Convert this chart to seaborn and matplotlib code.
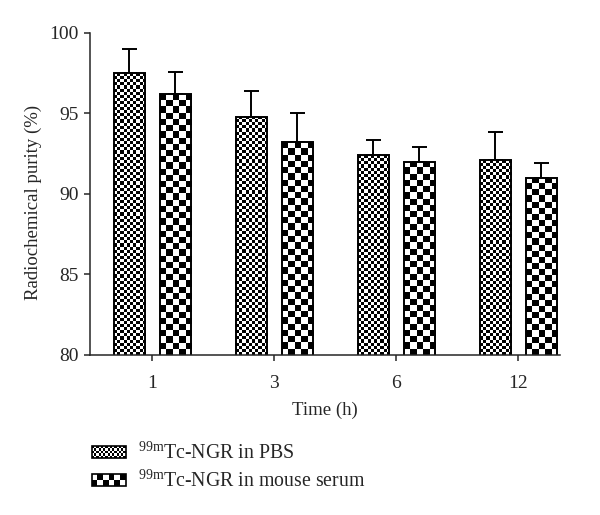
import numpy as np
import pandas as pd
import matplotlib
matplotlib.use("Agg")
import matplotlib.pyplot as plt
import seaborn as sns
from matplotlib.patches import Rectangle
from matplotlib.legend_handler import HandlerBase

# data
times = ["1", "3", "6", "12"]
groups = [r"$\mathregular{^{99m}}$Tc-NGR in PBS",
          r"$\mathregular{^{99m}}$Tc-NGR in mouse serum"]
pbs_mean = [97.5, 94.8, 92.4, 92.1]
pbs_sd = [1.5, 1.6, 0.95, 1.75]
serum_mean = [96.2, 93.2, 92.0, 91.0]
serum_sd = [1.4, 1.8, 0.9, 0.9]

df = pd.DataFrame({
    "Time": times * 2,
    "Group": [groups[0]] * 4 + [groups[1]] * 4,
    "Purity": pbs_mean + serum_mean,
})
sds = [pbs_sd, serum_sd]
means = [pbs_mean, serum_mean]

sns.set_style("ticks")
plt.rcParams["font.family"] = ["Liberation Serif", "DejaVu Serif"]
plt.rcParams["mathtext.fontset"] = "custom"
plt.rcParams["mathtext.rm"] = "Liberation Serif"
plt.rcParams["axes.linewidth"] = 1.1
plt.rcParams["xtick.major.width"] = 1.1
plt.rcParams["ytick.major.width"] = 1.1
plt.rcParams["xtick.major.size"] = 4.5
plt.rcParams["ytick.major.size"] = 4.5

fig = plt.figure(figsize=(6, 5.15), dpi=100)
ax = fig.add_axes([0.15, 0.311, 0.783, 0.625])

sns.barplot(data=df, x="Time", y="Purity", hue="Group", order=times,
            hue_order=groups, width=0.754, gap=0.326, legend=False,
            palette=["white", "white"], edgecolor="black", linewidth=1.4,
            ax=ax)

ax.set_ylim(80, 100)
ax.set_xlim(-0.51, 3.34)
ax.set_yticks([80, 85, 90, 95, 100])
ax.set_xlabel("Time (h)", fontsize=13.5, labelpad=7)
ax.set_ylabel("Radiochemical purity (%)", fontsize=13.5)
ax.yaxis.set_label_coords(-0.102, 0.472)
ax.tick_params(labelsize=14)
ax.tick_params(axis="x", pad=10)
sns.despine(ax=ax)

cell_px = [3.1, 6.2]


def checker_fill(patch, cell):
    x0 = patch.get_x()
    x1 = x0 + patch.get_width()
    y0 = max(patch.get_y(), 80)
    y1 = patch.get_y() + patch.get_height()
    (px0, py0), (px1, py1) = ax.transData.transform([(x0, y0), (x1, y1)])
    nx = max(1, int(round((px1 - px0) / cell)))
    ny = max(1, int(round((py1 - py0) / cell)))
    grid = np.add.outer(np.arange(ny), np.arange(nx)) % 2
    im = ax.imshow(grid, extent=(x0, x1, y0, y1), origin="lower",
                   cmap="gray_r", interpolation="nearest", aspect="auto",
                   zorder=1.5)
    im.set_clip_path(patch)
    patch.set_facecolor("none")
    patch.set_zorder(2)


bar_sets = list(ax.containers)
for i, cont in enumerate(bar_sets):
    xs = []
    for p in cont.patches:
        checker_fill(p, cell_px[i])
        xs.append(p.get_x() + p.get_width() / 2)
    ax.errorbar(xs, means[i], yerr=[np.zeros(4), sds[i]], fmt="none",
                ecolor="black", elinewidth=1.4, capsize=5.4, capthick=1.4,
                zorder=1.2)

ax.set_ylim(80, 100)
ax.set_xlim(-0.51, 3.34)


class CheckerHandler(HandlerBase):
    def __init__(self, ncols, nrows):
        super().__init__()
        self.ncols = ncols
        self.nrows = nrows

    def create_artists(self, legend, orig_handle, xdescent, ydescent,
                       width, height, fontsize, trans):
        x0, y0 = -xdescent, -ydescent
        cw, ch = width / self.ncols, height / self.nrows
        arts = [Rectangle((x0, y0), width, height, facecolor="white",
                          edgecolor="none", transform=trans)]
        for r in range(self.nrows):
            for c in range(self.ncols):
                if (r + c) % 2 == 0:
                    arts.append(Rectangle((x0 + c * cw, y0 + r * ch), cw, ch,
                                          facecolor="black", edgecolor="none",
                                          transform=trans))
        arts.append(Rectangle((x0, y0), width, height, facecolor="none",
                              edgecolor="black", linewidth=1.2,
                              transform=trans))
        return arts


h1 = Rectangle((0, 0), 1, 1)
h2 = Rectangle((0, 0), 1, 1)
fig.legend([h1, h2], groups, loc="upper left", bbox_to_anchor=(0.153, 0.14),
           frameon=False, fontsize=14.3, handlelength=1.7, handleheight=0.6,
           handletextpad=0.65, labelspacing=0.33, borderpad=0,
           borderaxespad=0,
           handler_map={h1: CheckerHandler(15, 5), h2: CheckerHandler(6, 2)})

fig.savefig("out.png", dpi=100)
